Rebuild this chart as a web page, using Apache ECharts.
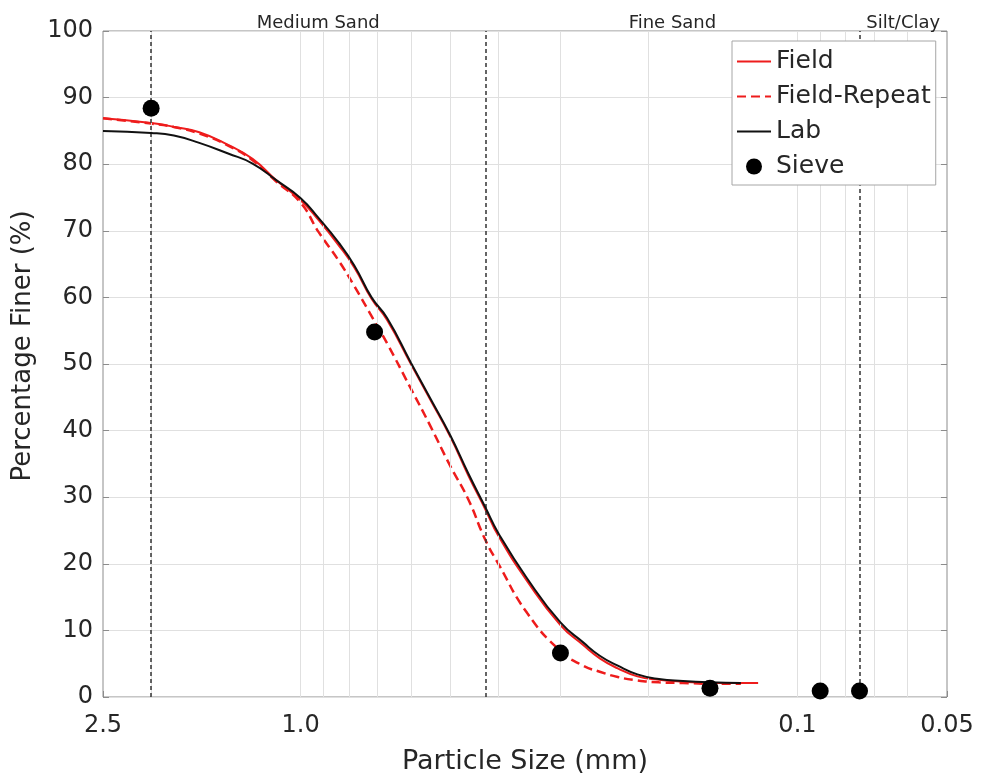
<!DOCTYPE html>
<html>
<head>
<meta charset="utf-8">
<script src="https://cdn.jsdelivr.net/npm/echarts@6/dist/echarts.min.js"></script>
<style>html,body{margin:0;padding:0;background:#fff}#c{width:981px;height:782px}</style>
</head>
<body>
<div id="c"></div>
<script>
// ---- data (particle size in mm, percentage finer in %) ----
const fieldSizes = [2.5, 2.0, 1.8, 1.6, 1.4, 1.25, 1.12, 1.0, 0.92, 0.84, 0.78, 0.72, 0.67, 0.6, 0.55, 0.5, 0.46, 0.425, 0.4, 0.35, 0.3, 0.27, 0.25, 0.23, 0.21, 0.19, 0.17, 0.15, 0.13, 0.12];
const fieldValues = [86.9, 86.2, 85.6, 84.8, 82.9, 80.8, 77.6, 74.6, 71.6, 67.9, 64.5, 59.8, 56.6, 50.0, 44.8, 39.1, 33.3, 28.2, 24.2, 17.4, 10.8, 7.8, 5.8, 4.3, 3.1, 2.6, 2.3, 2.1, 2.1, 2.1];

const repeatSizes = [2.5, 2.0, 1.8, 1.6, 1.4, 1.25, 1.12, 1.0, 0.92, 0.84, 0.78, 0.72, 0.67, 0.6, 0.55, 0.5, 0.46, 0.425, 0.4, 0.35, 0.3, 0.27, 0.25, 0.23, 0.21, 0.19, 0.17, 0.15, 0.13];
const repeatValues = [86.9, 86.1, 85.6, 84.6, 82.8, 80.6, 77.4, 74.2, 69.8, 65.6, 61.7, 57.2, 53.1, 46.3, 40.9, 34.7, 29.7, 23.6, 20.0, 12.6, 6.9, 4.7, 3.8, 3.0, 2.5, 2.2, 2.1, 2.0, 2.0];

const labSizes = [2.5, 2.0, 1.8, 1.6, 1.4, 1.25, 1.12, 1.0, 0.92, 0.84, 0.78, 0.72, 0.67, 0.6, 0.55, 0.5, 0.46, 0.425, 0.4, 0.35, 0.3, 0.27, 0.25, 0.23, 0.21, 0.19, 0.17, 0.15, 0.13];
const labValues = [85.0, 84.7, 84.3, 83.2, 81.6, 80.1, 77.6, 74.9, 71.9, 68.3, 64.8, 60.0, 56.9, 50.2, 45.0, 39.3, 33.6, 28.5, 24.6, 17.8, 11.2, 8.2, 6.2, 4.7, 3.4, 2.7, 2.4, 2.2, 2.1];

const sieveSizes = [2.0, 0.71, 0.30, 0.15, 0.09, 0.075];
const sieveValues = [88.4, 54.8, 6.6, 1.3, 0.9, 0.9];

const xTickValues = [2.5, 1.0, 0.1, 0.05];
const xTickLabels = ['2.5', '1.0', '0.1', '0.05'];
const gridSizes = [2, 1, 0.9, 0.8, 0.7, 0.6, 0.5, 0.4, 0.3, 0.2, 0.1, 0.09, 0.08, 0.07, 0.06];
const boundarySizes = [2.0, 0.425, 0.075];
const zoneNames = ['Medium Sand', 'Fine Sand', 'Silt/Clay'];
const zoneEdges = [2.0, 0.425, 0.075, 0.05];

// ---- chart ----
const FONT = 'DejaVu Sans';
const TXT = '#262626';
const zip = (xs, ys) => xs.map((x, i) => [x, ys[i]]);

const chart = echarts.init(document.getElementById('c'), null, {renderer: 'canvas'});
chart.setOption({
  animation: false,
  backgroundColor: '#fff',
  grid: {left: 103, right: 34, top: 31, bottom: 85, show: true, borderColor: '#8c8c8c', borderWidth: 1, backgroundColor: 'transparent'},
  legend: {
    data: [
      {name: 'Field', itemStyle: {opacity: 0}},
      {name: 'Field-Repeat', itemStyle: {opacity: 0}},
      {name: 'Lab', itemStyle: {opacity: 0}},
      {name: 'Sieve'}
    ],
    orient: 'vertical', left: 732, top: 41,
    backgroundColor: '#fff', borderColor: '#a6a6a6', borderWidth: 1, borderRadius: 0,
    padding: [8, 5, 6, 4], itemWidth: 34, itemHeight: 16, itemGap: 10,
    textStyle: {fontFamily: FONT, fontSize: 25, color: TXT, lineHeight: 25},
    z: 20
  },
  xAxis: {
    type: 'log', logBase: 10, min: 0.05, max: 2.5, inverse: true,
    name: 'Particle Size (mm)', nameLocation: 'middle', nameGap: 51,
    nameTextStyle: {fontFamily: FONT, fontSize: 27, color: TXT},
    axisLine: {show: false},
    axisTick: {show: true, inside: true, length: 6, lineStyle: {color: '#8c8c8c'}},
    splitLine: {show: false},
    axisLabel: {
      show: true, showMinLabel: true, showMaxLabel: true, margin: 17,
      fontFamily: FONT, fontSize: 24, color: TXT,
      formatter: function (v) {
        for (let i = 0; i < xTickValues.length; i++) {
          if (Math.abs(Math.log10(v) - Math.log10(xTickValues[i])) < 1e-3) return xTickLabels[i];
        }
        return '';
      }
    }
  },
  yAxis: [{
    type: 'value', min: 0, max: 100, interval: 10,
    name: 'Percentage Finer (%)', nameLocation: 'middle', nameGap: 63,
    nameTextStyle: {fontFamily: FONT, fontSize: 26, color: TXT, padding: [0, 0, 0, 36]},
    axisLine: {show: false},
    axisTick: {show: true, inside: true, length: 6, lineStyle: {color: '#8c8c8c'}},
    axisLabel: {fontFamily: FONT, fontSize: 24, color: TXT, margin: 10},
    splitLine: {show: true, lineStyle: {color: '#e0e0e0', width: 1}}
  }, {
    type: 'value', min: 0, max: 100, interval: 10, position: 'right',
    axisLine: {show: false},
    axisTick: {show: true, inside: true, length: 6, lineStyle: {color: '#8c8c8c'}},
    axisLabel: {show: false},
    splitLine: {show: false}
  }],
  series: [
    {
      name: '_grid', type: 'line', data: [], z: 1, silent: true,
      markLine: {
        silent: true, precision: 6, symbol: ['none', 'none'], label: {show: false},
        lineStyle: {color: '#e0e0e0', width: 1, type: 'solid'},
        data: gridSizes.map(v => ({xAxis: v}))
      },
      markArea: {
        silent: true,
        itemStyle: {color: 'rgba(0,0,0,0)'},
        label: {show: true, position: 'top', distance: 3, offset: [0, 4], fontFamily: FONT, fontSize: 18, color: TXT},
        data: zoneNames.map((n, i) => [{name: n, xAxis: zoneEdges[i]}, {xAxis: zoneEdges[i + 1]}])
      }
    },
    {
      name: '_bounds', type: 'line', data: [], z: 2, silent: true,
      markLine: {
        silent: true, precision: 6, symbol: ['none', 'none'], label: {show: false},
        lineStyle: {color: '#333333', width: 1.5, type: [4, 3]},
        data: boundarySizes.map(v => ({xAxis: v}))
      }
    },
    {
      name: 'Field', type: 'line', data: zip(fieldSizes, fieldValues), z: 3,
      showSymbol: false, symbol: 'none', smooth: 0.5,
      lineStyle: {color: '#ee1c1c', width: 2}, itemStyle: {color: '#ee1c1c'}
    },
    {
      name: 'Field-Repeat', type: 'line', data: zip(repeatSizes, repeatValues), z: 4,
      showSymbol: false, symbol: 'none', smooth: 0.5,
      lineStyle: {color: '#ee1c1c', width: 2.5, type: [9, 5]}, itemStyle: {color: '#ee1c1c'}
    },
    {
      name: 'Lab', type: 'line', data: zip(labSizes, labValues), z: 5,
      showSymbol: false, symbol: 'none', smooth: 0.5,
      lineStyle: {color: '#111111', width: 2}, itemStyle: {color: '#111111'}
    },
    {
      name: 'Sieve', type: 'scatter', data: zip(sieveSizes, sieveValues), z: 6,
      symbol: 'circle', symbolSize: 17, itemStyle: {color: '#000000', opacity: 1}
    }
  ]
});
</script>
</body>
</html>
